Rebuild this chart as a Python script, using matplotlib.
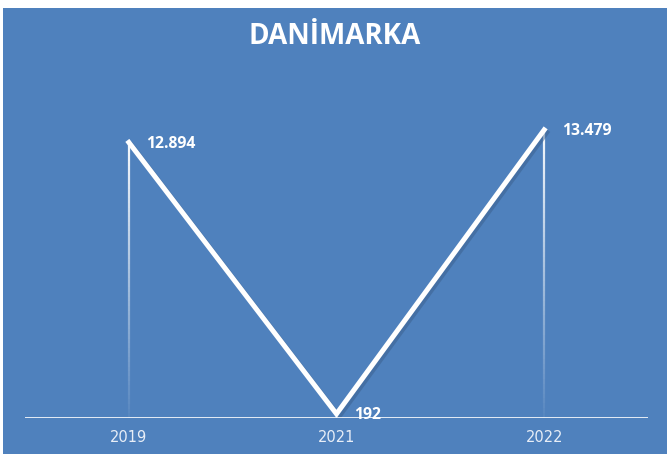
import numpy as np
import matplotlib.pyplot as plt
from matplotlib.collections import LineCollection
from matplotlib.patches import Rectangle

# Veriler
years = ['2019', '2021', '2022']
values = [12894, 192, 13479]
labels = ['12.894', '192', '13.479']

bg = '#4F81BD'

fig = plt.figure(figsize=(6.67, 4.54), dpi=100)
fig.patch.set_facecolor('white')
fig.add_artist(Rectangle((3 / 667, 0), 1, 446 / 454, transform=fig.transFigure,
                         facecolor=bg, edgecolor='none', zorder=-10))

ax = fig.add_axes([25 / 667, 36 / 454, 623 / 667, 342 / 454])
ax.set_zorder(1)
ax.set_facecolor('none')
x = np.arange(len(years))
ax.set_xlim(-0.5, 2.5)
ax.set_ylim(0, 16000)

# Lineas verticales con degradado
for xi, v in zip(x, values):
    ys = np.linspace(0, v, 60)
    segs = [[(xi, ys[i]), (xi, ys[i + 1])] for i in range(len(ys) - 1)]
    alphas = np.linspace(0.05, 0.95, len(segs))
    cols = [(1, 1, 1, a) for a in alphas]
    ax.add_collection(LineCollection(segs, colors=cols, linewidths=1.6, zorder=2))

# Sombra y linea principal
ax.plot(x + 0.012, np.array(values) - 120, color='#3a5f8c', lw=3.6, alpha=0.5,
        zorder=3, solid_joinstyle='miter')
ax.plot(x, values, color='white', lw=3.6, zorder=4, solid_joinstyle='miter')

ax.axhline(0, color='white', lw=1.2, zorder=5)

for xi, v, lab in zip(x, values, labels):
    ax.text(xi + 0.085, v - 60, lab, color='white', fontsize=11.3, fontweight='bold',
            family='Open Sans', va='center', ha='left', zorder=6)

ax.set_xticks(x)
ax.set_xticklabels(years, color='#e8eef7', fontsize=10.5, family='DejaVu Sans')
ax.tick_params(axis='x', length=0, pad=9)
ax.set_yticks([])
for s in ax.spines.values():
    s.set_visible(False)

fig.text(335 / 667, 1 - 36 / 454, 'DANİMARKA', color='white', fontsize=20,
         fontweight='bold', family='Open Sans', ha='center', va='center')

fig.savefig('out.png', dpi=100, facecolor=fig.get_facecolor())
